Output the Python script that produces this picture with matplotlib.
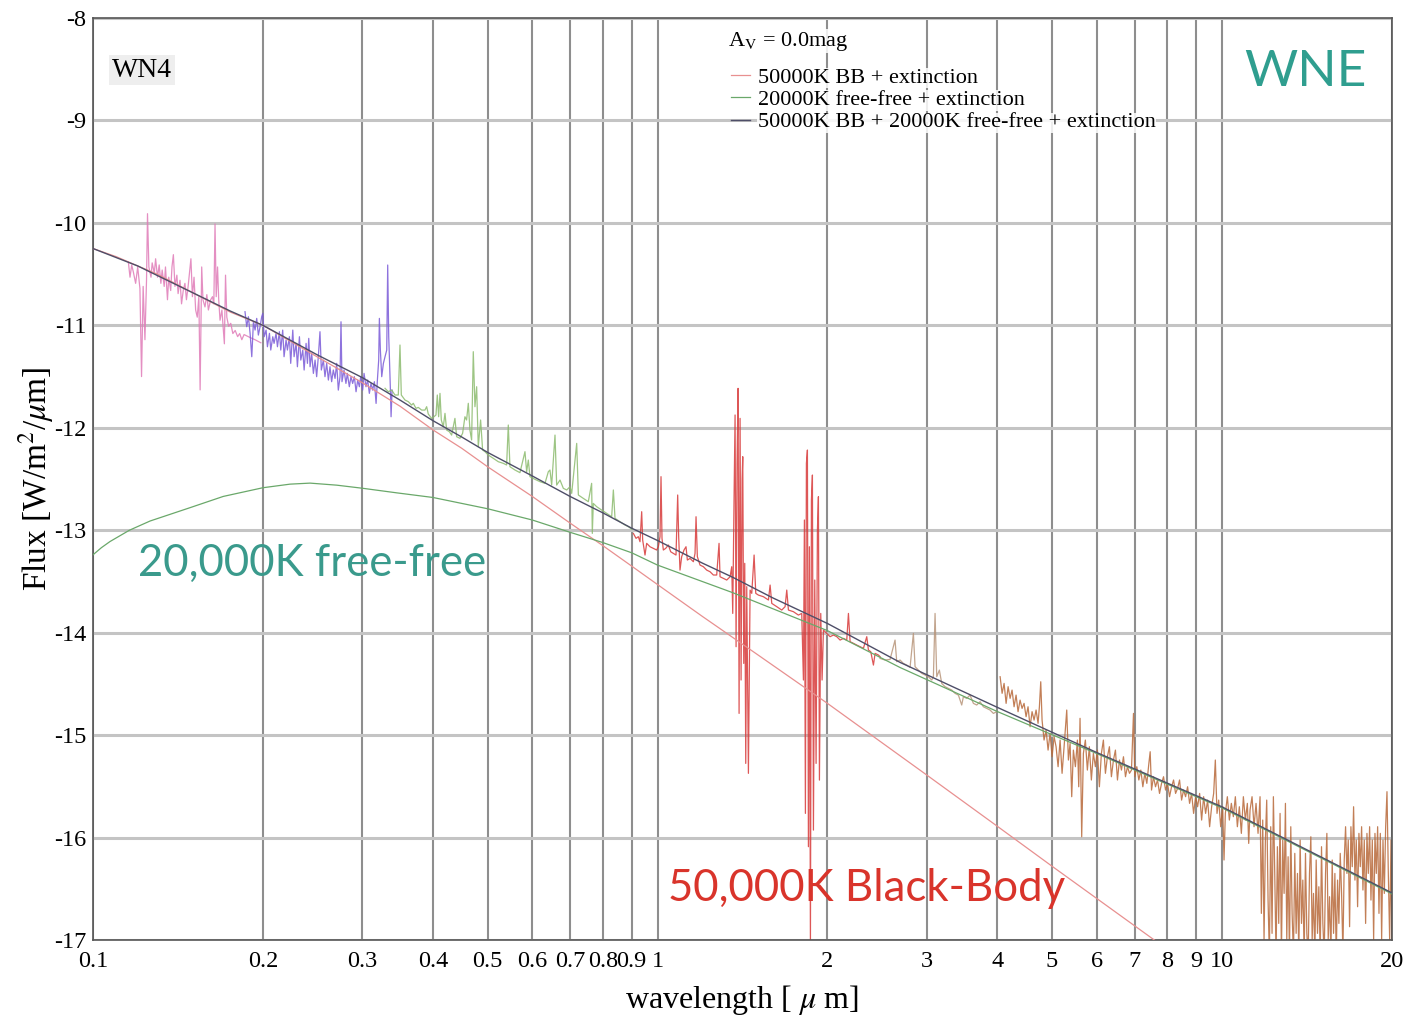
import matplotlib
matplotlib.use("Agg")
import matplotlib.pyplot as plt
from matplotlib.ticker import NullLocator

plt.rcParams["font.family"] = ["Liberation Serif", "DejaVu Serif"]
plt.rcParams["mathtext.fontset"] = "stix"

# ---- model curves (log10 flux, W/m^2/um) ----
bb_wl = [0.1, 0.11, 0.12, 0.13, 0.15, 0.175, 0.2, 0.25, 0.3, 0.35, 0.4, 0.45, 0.5, 0.6, 0.7, 0.8, 0.9,
         1.0, 1.2, 1.5, 2.0, 3.0, 4.0, 5.0, 7.5, 10.0]
bb_flux = [-10.25, -10.33, -10.42, -10.50, -10.68, -10.87, -11.0, -11.31, -11.56, -11.79, -12.02, -12.20,
           -12.38, -12.67, -12.93, -13.15, -13.35, -13.53, -13.84, -14.21, -14.69, -15.39, -15.89, -16.28,
           -16.98, -17.47]

ff_wl = [0.1, 0.1035, 0.1072, 0.116, 0.1262, 0.1485, 0.1701, 0.2, 0.2234, 0.2424, 0.2703, 0.3, 0.3452,
         0.4, 0.5, 0.6, 0.7, 0.8, 0.9, 1.0, 1.36, 2.0, 2.69, 4.0, 6.0, 10.0, 20.0]
ff_flux = [-13.24, -13.17, -13.11, -13.0, -12.91, -12.78, -12.67, -12.585, -12.55, -12.54, -12.56, -12.59,
           -12.635, -12.68, -12.79, -12.90, -13.02, -13.12, -13.22, -13.34, -13.61, -13.98, -14.34, -14.77,
           -15.18, -15.71, -16.55]

tot_wl = [0.1, 0.12, 0.15, 0.175, 0.2, 0.25, 0.3, 0.35, 0.4, 0.45, 0.5, 0.6, 0.7, 0.8, 0.9, 1.0, 1.2,
          1.36, 1.6, 2.0, 2.69, 4.04, 6.0, 10.0, 20.0]
tot_flux = [-10.25, -10.42, -10.68, -10.86, -11.0, -11.29, -11.51, -11.73, -11.93, -12.09, -12.24, -12.47,
            -12.67, -12.83, -12.98, -13.10, -13.32, -13.46, -13.66, -13.91, -14.29, -14.74, -15.17, -15.70,
            -16.54]

# ---- observed spectrum, in pieces ----
uv1_wl = [0.1155, 0.1163, 0.1171, 0.1179, 0.1190, 0.1200, 0.1211, 0.1219, 0.1227, 0.1236,
          0.1244, 0.1249, 0.1256, 0.1267, 0.1273, 0.1284, 0.1291, 0.1301, 0.1310, 0.1319,
          0.1326, 0.1337, 0.1344, 0.1355, 0.1362, 0.1373, 0.1380, 0.1388, 0.1397, 0.1408,
          0.1415, 0.1426, 0.1435, 0.1445, 0.1455, 0.1464, 0.1474, 0.1491, 0.1500, 0.1510,
          0.1520, 0.1530, 0.1540, 0.1548, 0.1558, 0.1566, 0.1579, 0.1591, 0.1601, 0.1616,
          0.1628, 0.1637, 0.1645, 0.1653, 0.1662, 0.1670, 0.1679, 0.1692, 0.1700, 0.1709,
          0.1717, 0.1726, 0.1739, 0.1754, 0.1769, 0.1786, 0.1804, 0.1819, 0.1835, 0.1852,
          0.1900, 0.1936, 0.1983]
uv1_flux = [-10.38, -10.53, -10.41, -10.48, -10.59, -10.43, -10.64, -11.50, -10.62, -11.14,
            -10.56, -9.91, -10.43, -10.53, -10.39, -10.49, -10.35, -10.53, -10.41, -10.59,
            -10.46, -10.62, -10.43, -10.75, -10.53, -10.66, -10.43, -10.31, -10.62, -10.51,
            -10.69, -10.56, -10.79, -10.66, -10.59, -10.75, -10.62, -10.35, -10.72, -10.53,
            -10.85, -10.92, -10.72, -11.63, -10.43, -10.75, -10.82, -10.70, -10.85, -10.75,
            -10.72, -10.79, -10.01, -10.72, -10.43, -10.75, -10.95, -10.85, -11.01, -11.18,
            -10.51, -10.92, -11.01, -10.98, -11.08, -11.05, -11.11, -11.08, -11.14, -11.09,
            -11.12, -11.14, -11.17]

uv2_wl = [0.1859, 0.1872, 0.1885, 0.1898, 0.1911, 0.1924, 0.1937, 0.1950, 0.1963, 0.1977,
          0.1990, 0.1999, 0.2010, 0.2026, 0.2037, 0.2054, 0.2065, 0.2082, 0.2093, 0.2110,
          0.2122, 0.2139, 0.2151, 0.2168, 0.2180, 0.2198, 0.2210, 0.2228, 0.2240, 0.2259,
          0.2271, 0.2290, 0.2302, 0.2321, 0.2334, 0.2353, 0.2366, 0.2385, 0.2398, 0.2411,
          0.2424, 0.2440, 0.2457, 0.2474, 0.2490, 0.2507, 0.2524, 0.2538, 0.2559, 0.2576,
          0.2594, 0.2612, 0.2629, 0.2647, 0.2665, 0.2684, 0.2702, 0.2720, 0.2739, 0.2750,
          0.2761, 0.2784, 0.2806, 0.2822, 0.2845, 0.2864, 0.2884, 0.2904, 0.2924, 0.2944,
          0.2964, 0.2980, 0.3004, 0.3021, 0.3045, 0.3066, 0.3087, 0.3108, 0.3129, 0.3151,
          0.3173, 0.3190, 0.3207, 0.3216, 0.3229, 0.3247, 0.3269, 0.3291, 0.3314, 0.3327,
          0.3341, 0.3350, 0.3364, 0.3373, 0.3387]
uv2_flux = [-10.867, -11.013, -10.916, -11.078, -11.306, -10.965, -11.046, -10.932, -11.095, -11.013,
            -10.916, -10.883, -11.111, -11.046, -11.209, -11.078, -11.241, -11.111, -11.176, -11.078,
            -11.209, -11.062, -11.241, -11.046, -11.306, -11.143, -11.241, -11.111, -11.371, -11.046,
            -11.306, -11.176, -11.404, -11.111, -11.339, -11.241, -11.436, -11.176, -11.371, -11.127,
            -11.404, -11.274, -11.469, -11.339, -11.501, -11.306, -11.062, -11.436, -11.339, -11.501,
            -11.371, -11.534, -11.404, -11.550, -11.436, -11.518, -11.371, -11.632, -11.501, -10.965,
            -11.550, -11.436, -11.567, -11.469, -11.599, -11.501, -11.567, -11.501, -11.648, -11.534,
            -11.599, -11.501, -11.632, -11.469, -11.599, -11.534, -11.664, -11.567, -11.632, -11.550,
            -11.762, -11.534, -11.339, -10.932, -11.241, -11.501, -11.371, -11.306, -11.241, -10.411,
            -11.111, -11.306, -11.632, -11.892, -11.632]

opt_wl = [0.3291, 0.3336, 0.3381, 0.3427, 0.3474, 0.3498, 0.3517, 0.3570, 0.3619, 0.3668,
          0.3693, 0.3734, 0.3769, 0.3821, 0.3873, 0.3900, 0.3926, 0.3980, 0.4018, 0.4051,
          0.4073, 0.4095, 0.4118, 0.4140, 0.4174, 0.4203, 0.4231, 0.4278, 0.4318, 0.4377,
          0.4407, 0.4467, 0.4516, 0.4559, 0.4590, 0.4622, 0.4653, 0.4685, 0.4717, 0.4749,
          0.4782, 0.4814, 0.4860, 0.4900, 0.4947, 0.5015, 0.5118, 0.5223, 0.5331, 0.5404,
          0.5441, 0.5478, 0.5591, 0.5706, 0.5824, 0.5864, 0.5904, 0.5944, 0.6067, 0.6192,
          0.6319, 0.6406, 0.6449, 0.6494, 0.6583, 0.6628, 0.6719, 0.6811, 0.6905, 0.6999,
          0.7047, 0.7192, 0.7241, 0.7389, 0.7541, 0.7644, 0.7665, 0.7696, 0.7802, 0.7963,
          0.8127, 0.8295, 0.8352, 0.8409, 0.8582, 0.8759, 0.8879, 0.9012]
opt_flux = [-11.615, -11.648, -11.631, -11.680, -11.680, -11.192, -11.680, -11.729, -11.745, -11.778,
            -11.761, -11.810, -11.801, -11.827, -11.827, -11.794, -11.866, -11.908, -11.892, -11.875,
            -11.680, -11.892, -11.664, -11.924, -11.989, -11.859, -12.022, -12.038, -12.071, -11.908,
            -12.087, -12.103, -12.054, -11.892, -11.924, -11.761, -12.022, -12.119, -11.257, -11.794,
            -11.599, -12.185, -11.924, -12.217, -12.233, -12.266, -12.298, -12.331, -12.347, -12.363,
            -11.973, -12.380, -12.412, -12.438, -12.233, -12.429, -12.315, -12.477, -12.503, -12.526,
            -12.542, -12.429, -12.412, -12.559, -12.071, -12.559, -12.510, -12.591, -12.607, -12.575,
            -12.640, -12.152, -12.656, -12.689, -12.721, -12.542, -13.031, -12.738, -12.770, -12.803,
            -12.835, -12.868, -12.607, -12.884, -12.917, -12.949, -12.965, -12.992]

nir_wl = [0.9062, 0.9161, 0.9248, 0.9311, 0.9375, 0.9413, 0.9503, 0.9568, 0.9699, 0.9831,
          0.9966, 1.0034, 1.0103, 1.0144, 1.0185, 1.0241, 1.0339, 1.0452, 1.0552, 1.0667,
          1.0784, 1.0858, 1.0902, 1.0961, 1.1036, 1.1142, 1.1233, 1.1295, 1.1418, 1.1575,
          1.1654, 1.1702, 1.1765, 1.1894, 1.2057, 1.2222, 1.2389, 1.2559, 1.2731, 1.2853,
          1.2905, 1.3084, 1.3263, 1.3445, 1.3536, 1.3592, 1.3666, 1.3722, 1.3778, 1.3834,
          1.3891, 1.3948, 1.4005, 1.4062, 1.4120, 1.4158, 1.4216, 1.4274, 1.4332, 1.4391,
          1.4489, 1.4588, 1.4688, 1.4829, 1.4930, 1.5093, 1.5404, 1.5722, 1.5829, 1.5937,
          1.6265, 1.6600, 1.6827, 1.6942, 1.7058, 1.7408, 1.7766, 1.8010, 1.8133, 1.8207,
          1.8281, 1.8356, 1.8431, 1.8507, 1.8582, 1.8659, 1.8735, 1.8811, 1.8889, 1.8992,
          1.9095, 1.9199, 1.9277, 1.9357, 1.9462, 1.9568, 1.9675, 1.9944, 2.0218, 2.0495,
          2.0775, 2.1059, 2.1348, 2.1640, 2.1788, 2.1936, 2.2236, 2.2540, 2.2849, 2.3162,
          2.3479, 2.3639, 2.3866, 2.4126, 2.4291, 2.4621, 2.4789]
nir_flux = [-13.031, -13.079, -13.063, -13.112, -12.819, -13.096, -13.242, -13.128, -13.161, -13.177,
            -13.193, -13.161, -13.063, -12.477, -13.079, -13.193, -13.177, -13.144, -13.210, -13.226,
            -13.242, -12.656, -13.063, -13.389, -13.258, -13.193, -13.161, -13.291, -13.275, -13.307,
            -13.226, -12.868, -13.258, -13.340, -13.356, -13.389, -13.405, -13.437, -13.437, -13.128,
            -13.454, -13.470, -13.486, -13.454, -13.356, -13.812, -12.673, -11.875, -14.137, -12.347,
            -11.615, -14.788, -11.908, -14.462, -12.510, -12.282, -14.300, -13.323, -15.276, -13.551,
            -15.373, -13.584, -13.616, -13.242, -13.616, -13.633, -13.649, -13.681, -13.535, -13.714,
            -13.746, -13.779, -13.746, -13.584, -13.779, -13.795, -13.828, -13.812, -14.462, -12.900,
            -15.764, -12.347, -12.217, -16.089, -13.161, -17.066, -12.705, -12.461, -15.927, -13.486,
            -15.276, -12.998, -12.673, -15.439, -13.812, -14.462, -13.974, -14.007, -14.039, -14.023,
            -14.039, -14.072, -14.056, -14.072, -13.812, -14.088, -14.104, -14.121, -14.137, -14.153,
            -14.039, -14.169, -14.186, -14.316, -14.202, -14.218, -14.234]

kl_wl = [2.4788, 2.5298, 2.5820, 2.6351, 2.6531, 2.6893, 2.7261, 2.7636, 2.8014, 2.8398,
         2.8592, 2.8984, 2.9381, 2.9783, 3.0190, 3.0604, 3.0812, 3.1022, 3.1234, 3.1575,
         3.1877, 3.2313, 3.2756, 3.3204, 3.3659, 3.4120, 3.4586, 3.4822, 3.5299, 3.5782,
         3.6272, 3.6768, 3.7271, 3.7781, 3.8298, 3.8822, 3.9354, 3.9892]
kl_flux = [-14.251, -14.267, -14.261, -14.072, -14.283, -14.267, -14.300, -14.316, -14.339, -14.007,
           -14.332, -14.365, -14.397, -14.413, -14.430, -14.462, -14.430, -13.812, -14.430, -14.365,
           -14.495, -14.527, -14.544, -14.560, -14.592, -14.609, -14.706, -14.625, -14.641, -14.609,
           -14.690, -14.706, -14.674, -14.723, -14.739, -14.755, -14.788, -14.771]

mir_wl = [4.045, 4.078, 4.111, 4.145, 4.179, 4.213, 4.247, 4.282, 4.317, 4.352,
          4.388, 4.424, 4.460, 4.497, 4.533, 4.571, 4.608, 4.646, 4.684, 4.722,
          4.748, 4.774, 4.800, 4.839, 4.879, 4.919, 4.959, 5.000, 5.041, 5.082,
          5.124, 5.166, 5.208, 5.251, 5.308, 5.344, 5.381, 5.417, 5.454, 5.499,
          5.544, 5.574, 5.604, 5.642, 5.681, 5.727, 5.774, 5.821, 5.869, 5.917,
          5.966, 6.015, 6.064, 6.114, 6.164, 6.215, 6.266, 6.317, 6.369, 6.422,
          6.474, 6.528, 6.581, 6.635, 6.690, 6.745, 6.800, 6.856, 6.912, 6.969,
          7.007, 7.064, 7.123, 7.181, 7.240, 7.299, 7.359, 7.420, 7.460, 7.501,
          7.562, 7.624, 7.687, 7.750, 7.814, 7.878, 7.942, 8.008, 8.073, 8.140,
          8.207, 8.274, 8.342, 8.410, 8.480, 8.549, 8.619, 8.690, 8.761, 8.833,
          8.906, 8.979, 9.052, 9.127, 9.202, 9.277, 9.353, 9.430, 9.507, 9.585,
          9.665, 9.731, 9.798, 9.865, 9.946, 10.027, 10.082, 10.137, 10.220, 10.304,
          10.388, 10.473, 10.559, 10.646, 10.733, 10.821, 10.910, 10.999, 11.089, 11.150,
          11.211, 11.303, 11.395, 11.489, 11.583, 11.678, 11.741, 11.806, 11.870, 11.935,
          12.000, 12.066, 12.131, 12.198, 12.264, 12.331, 12.399, 12.466, 12.535, 12.603,
          12.672, 12.742, 12.811, 12.882, 12.952, 13.023, 13.094, 13.166, 13.238, 13.310,
          13.383, 13.456, 13.530, 13.604, 13.678, 13.753, 13.828, 13.904, 13.980, 14.056,
          14.133, 14.210, 14.288, 14.366, 14.444, 14.523, 14.603, 14.683, 14.763, 14.843,
          14.925, 15.006, 15.088, 15.171, 15.254, 15.337, 15.421, 15.505, 15.590, 15.675,
          15.761, 15.847, 15.934, 16.021, 16.108, 16.196, 16.285, 16.374, 16.463, 16.553,
          16.644, 16.735, 16.826, 16.918, 17.010, 17.103, 17.197, 17.291, 17.385, 17.480,
          17.576, 17.672, 17.768, 17.865, 17.963, 18.061, 18.160, 18.259, 18.359, 18.459,
          18.560, 18.661, 18.763, 18.866, 18.969, 19.073, 19.177, 19.281, 19.387, 19.493,
          19.599, 19.706, 19.814, 19.922, 20.000]
mir_flux = [-14.430, -14.592, -14.495, -14.690, -14.527, -14.641, -14.560, -14.723, -14.609, -14.771,
            -14.658, -14.739, -14.690, -14.820, -14.723, -14.918, -14.771, -14.853, -14.755, -14.885,
            -14.723, -14.479, -14.853, -15.048, -14.950, -15.146, -14.983, -15.211, -15.015, -15.113,
            -15.308, -15.048, -15.373, -15.113, -14.755, -15.243, -15.081, -15.601, -15.146, -15.308,
            -15.048, -15.504, -14.836, -15.992, -15.178, -15.048, -15.341, -15.113, -15.438, -15.178,
            -15.308, -15.146, -15.504, -15.178, -15.048, -15.373, -15.211, -15.113, -15.406, -15.243,
            -15.146, -15.438, -15.243, -15.341, -15.211, -15.406, -15.308, -15.373, -15.341, -14.788,
            -15.406, -15.308, -15.438, -15.341, -15.504, -15.373, -15.471, -15.276, -15.162, -15.536,
            -15.406, -15.504, -15.438, -15.569, -15.471, -15.406, -15.536, -15.471, -15.601, -15.504,
            -15.438, -15.569, -15.520, -15.438, -15.634, -15.536, -15.601, -15.504, -15.666, -15.569,
            -15.764, -15.601, -15.699, -15.569, -15.829, -15.601, -15.764, -15.634, -15.894, -15.699,
            -15.569, -15.243, -15.764, -15.634, -15.894, -15.699, -16.219, -15.764, -15.601, -15.829,
            -15.666, -15.796, -15.601, -15.894, -15.699, -15.959, -15.601, -15.829, -15.666, -16.057,
            -15.731, -15.601, -15.894, -15.666, -15.959, -15.601, -16.740, -15.829, -17.000, -16.024,
            -15.634, -16.610, -17.163, -15.894, -16.935, -15.601, -16.350, -17.163, -16.089, -16.838,
            -15.764, -17.163, -16.024, -16.545, -15.666, -17.000, -16.187, -17.163, -15.894, -16.740,
            -17.163, -16.154, -16.935, -16.350, -17.163, -16.024, -16.838, -16.415, -17.163, -16.154,
            -16.935, -17.163, -16.350, -15.992, -17.000, -16.545, -17.163, -16.219, -16.935, -16.480,
            -17.163, -16.089, -16.838, -17.163, -16.350, -15.959, -17.000, -16.577, -17.163, -16.219,
            -16.935, -16.350, -17.163, -16.415, -16.838, -16.154, -16.545, -17.131, -16.219, -15.894,
            -16.350, -16.024, -16.870, -15.894, -16.284, -15.699, -16.415, -16.024, -16.675, -15.959,
            -16.284, -15.894, -16.512, -16.024, -16.838, -15.959, -16.350, -15.894, -16.610, -16.024,
            -17.000, -15.959, -16.350, -15.894, -16.740, -15.959, -17.000, -16.024, -16.545, -15.894,
            -15.552, -16.350, -17.000, -16.024, -17.163]

xticks = [0.1, 0.2, 0.3, 0.4, 0.5, 0.6, 0.7, 0.8, 0.9, 1, 2, 3, 4, 5, 6, 7, 8, 9, 10, 20]
xtick_labels = ["0.1", "0.2", "0.3", "0.4", "0.5", "0.6", "0.7", "0.8", "0.9", "1",
                "2", "3", "4", "5", "6", "7", "8", "9", "10", "20"]
yticks = [-17, -16, -15, -14, -13, -12, -11, -10, -9, -8]

fig = plt.figure(figsize=(14.09, 10.18), dpi=100)
ax = fig.add_axes([0.066, 0.0766, 0.9219, 0.9057])
ax.set_xscale("log")
ax.set_xlim(0.1, 20)
ax.set_ylim(-17, -8)

ax.set_xticks(xticks)
ax.set_xticklabels(xtick_labels)
ax.xaxis.set_minor_locator(NullLocator())
ax.set_yticks(yticks)
ax.set_yticklabels([str(v) for v in yticks])
ax.tick_params(axis="both", length=0, labelsize=17.5)
ax.tick_params(axis="x", pad=8)
ax.tick_params(axis="y", pad=5)

ax.set_axisbelow(True)
ax.xaxis.grid(True, color="#8e8e8e", lw=1.5)
ax.yaxis.grid(True, color="#c4c4c4", lw=2.2)
for s in ax.spines.values():
    s.set_color("#555555")
    s.set_linewidth(1.2)

# spectrum pieces
spec_kw = dict(lw=0.9, alpha=0.85, zorder=2)
ax.plot(uv1_wl, uv1_flux, color="#e07cb8", **spec_kw)
ax.plot(uv2_wl, uv2_flux, color="#7a5ad8", **spec_kw)
ax.plot(opt_wl, opt_flux, color="#8cbb6e", **spec_kw)
ax.plot(nir_wl, nir_flux, color="#d83a3a", **spec_kw)
ax.plot(kl_wl, kl_flux, color="#b8957a", **spec_kw)
ax.plot(mir_wl, mir_flux, color="#b8693a", **spec_kw)

# models
l_bb, = ax.plot(bb_wl, bb_flux, color="#e89090", lw=0.9, zorder=3,
                label="50000K BB + extinction")
l_ff, = ax.plot(ff_wl, ff_flux, color="#6aa86a", lw=0.9, zorder=3,
                label="20000K free-free + extinction")
l_tot, = ax.plot(tot_wl, tot_flux, color="#4e4e68", lw=1.0, zorder=3,
                 label="50000K BB + 20000K free-free + extinction")

box = dict(facecolor="white", edgecolor="none", alpha=0.85, pad=0.5)
leg = ax.legend(handles=[l_bb, l_ff, l_tot], loc="upper left", bbox_to_anchor=(0.4911, 0.9466),
                fontsize=16, frameon=False, handlelength=0.85, handletextpad=0.36,
                labelspacing=0.08, borderaxespad=0, borderpad=0)
for t in leg.get_texts():
    t.set_bbox(box)
ax.text(0.4888, 0.975, "A$_\\mathrm{V}$ = 0.0mag", transform=ax.transAxes, fontsize=16,
        va="center", ha="left", bbox=box, zorder=6)

ax.text(0.0146, 0.9436, "WN4", transform=ax.transAxes, fontsize=20, va="center", ha="left",
        bbox=dict(facecolor="#eeeeee", edgecolor="none", pad=2))
ax.text(0.933, 0.9414, "WNE", transform=ax.transAxes, fontsize=37, va="center", ha="center",
        color="#2f9e8f", family="Lato")
ax.text(0.0346, 0.4089, "20,000K free-free", transform=ax.transAxes, fontsize=31.5, va="center",
        ha="left", color="#3a9a8c", family="Lato", zorder=5)
ax.text(0.4427, 0.0564, "50,000K Black-Body", transform=ax.transAxes, fontsize=31.5, va="center",
        ha="left", color="#d9342b", family="Lato", zorder=5)

ax.set_xlabel("wavelength [ $\\mu$ m]", fontsize=23, labelpad=8)
ax.set_ylabel("Flux [W/m$^2$/$\\mu$m]", fontsize=24, labelpad=-2)

fig.savefig("out.png", dpi=100, facecolor="white")
